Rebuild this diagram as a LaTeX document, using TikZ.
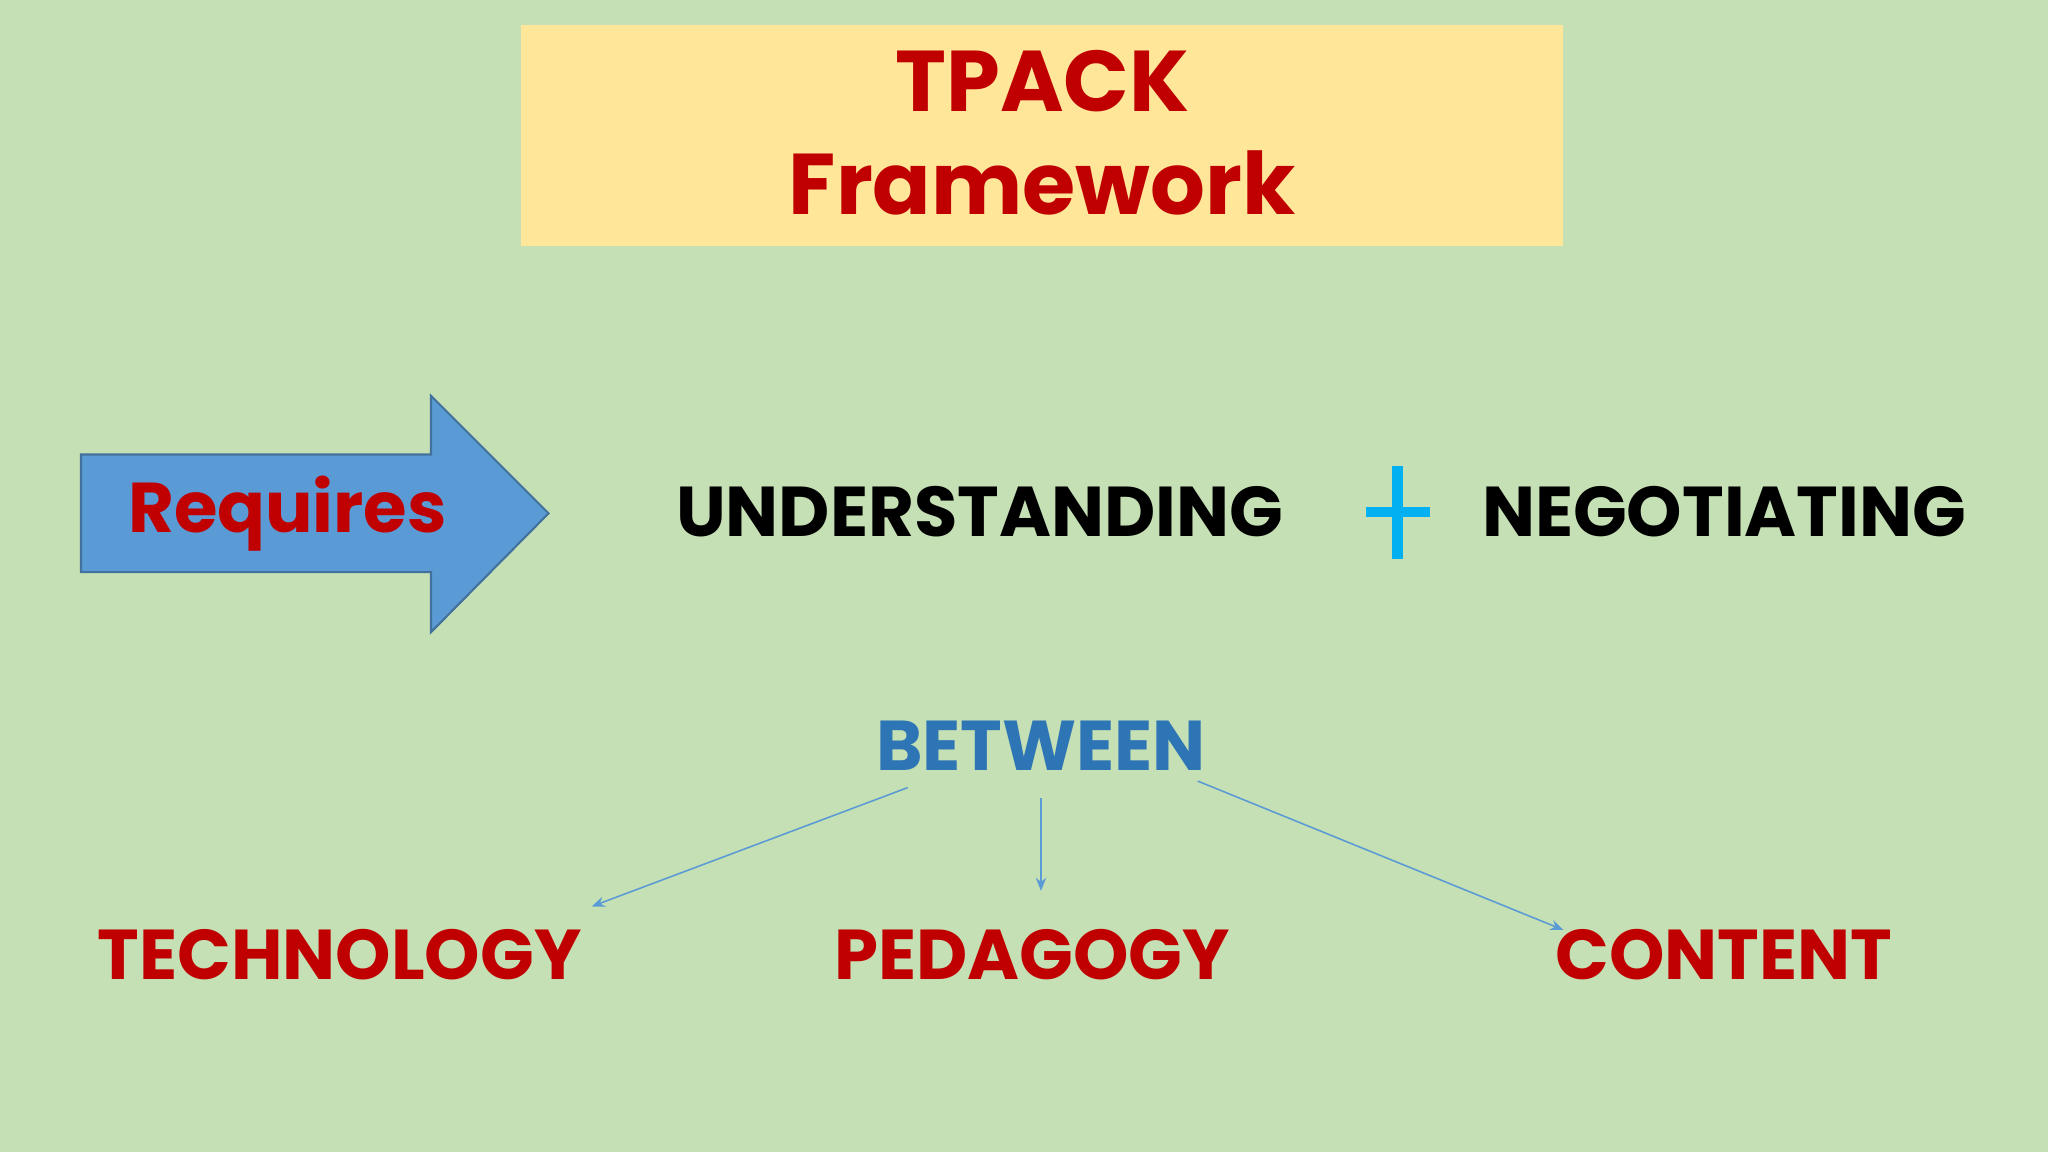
\documentclass[tikz,border=0pt]{standalone}
\usepackage{fontspec}
\setmainfont{Poppins}
\usetikzlibrary{arrows.meta}
\definecolor{bg}{RGB}{197,224,180}
\definecolor{titlebg}{RGB}{255,230,153}
\definecolor{dred}{RGB}{192,0,0}
\definecolor{ablue}{RGB}{91,155,213}
\definecolor{aborder}{RGB}{65,113,156}
\definecolor{btw}{RGB}{46,117,182}
\definecolor{plus}{RGB}{0,176,240}
\tikzset{
 big/.style={font=\bfseries\fontsize{27}{30}\selectfont, inner sep=0pt},
 redw/.style={big, text=dred},
 conn/.style={draw=ablue, line width=0.6pt, -{Stealth[length=5pt,width=4pt]}}
}
\begin{document}
\begin{tikzpicture}[x=0.5pt,y=-0.5pt]
\fill[bg] (0,0) rectangle (1568,882);
\useasboundingbox (0,0) rectangle (1568,882);
\fill[titlebg] (399,19) rectangle (1197,188);
\node[redw, font=\bfseries\fontsize{33}{36}\selectfont] (t1) at (798,62) {TPACK};
\node[redw, font=\bfseries\fontsize{33}{36}\selectfont] (t2) at (798,140) {Framework};
\draw[fill=ablue, draw=aborder, line width=0.8pt] (62,348) -- (330,348) -- (330,303) -- (420,393) -- (330,484) -- (330,438) -- (62,438) -- cycle;
\node[redw] (req) at (220,393) {Requires};
\node[big] (und) at (750,392) {UNDERSTANDING};
\draw[plus, line width=4pt] (1070,357) -- (1070,428) (1046,392) -- (1095,392);
\node[big] (neg) at (1320,392) {NEGOTIATING};
\node[big, text=btw] (btw) at (797,571) {BETWEEN};
\node[redw] (tech) at (260,731) {TECHNOLOGY};
\node[redw] (ped) at (790,731) {PEDAGOGY};
\node[redw] (con) at (1320,731) {CONTENT};
\coordinate (a1s) at (695,603); \coordinate (a1e) at (453,694);
\coordinate (a2s) at (797,611); \coordinate (a2e) at (797,682);
\coordinate (a3s) at (917,598); \coordinate (a3e) at (1197,712);
\draw[conn] (a1s) -- (a1e);
\draw[conn] (a2s) -- (a2e);
\draw[conn] (a3s) -- (a3e);
\end{tikzpicture}
\end{document}
